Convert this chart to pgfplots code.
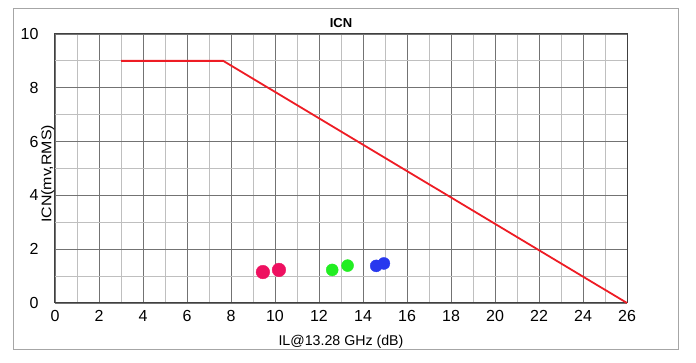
\documentclass[border=0pt]{standalone}
\usepackage{pgfplots}
\pgfplotsset{compat=1.18}
\usepackage{fontspec}
\setmainfont{Liberation Sans}
\definecolor{redl}{HTML}{EE1C24}
\definecolor{mag}{HTML}{EE1060}
\definecolor{grn}{HTML}{22EE22}
\definecolor{blu}{HTML}{2838EE}
\begin{document}
\begin{tikzpicture}
\useasboundingbox (-55pt,-60pt) rectangle (641pt,303pt);
\draw[gray!70, line width=1pt] (-41pt,-47pt) rectangle (623pt,294pt);
\begin{axis}[
  at={(0pt,0pt)}, anchor=origin,
  scale only axis, width=572pt, height=269pt,
  xmin=0, xmax=26, ymin=0, ymax=10,
  xtick={0,2,...,26}, ytick={0,2,...,10},
  minor xtick={1,3,...,25}, minor ytick={1,3,...,9},
  grid=both,
  major grid style={draw=black!55, line width=0.9pt},
  minor grid style={draw=black!25, line width=0.9pt},
  axis line style={draw=black!75, line width=1pt},
  tick style={draw=none},
  /pgf/number format/assume math mode=true,
  tick label style={font=\fontsize{16}{16}\selectfont},
  xticklabel style={yshift=-4pt},
  yticklabel style={xshift=-13pt},
  title={\bfseries ICN}, title style={font=\fontsize{13}{13}\selectfont, yshift=-3pt},
  xlabel={IL@13.28 GHz (dB)}, xlabel style={font=\fontsize{14.2}{14.2}\selectfont, at={(axis description cs:0.5,0)}, anchor=center, yshift=-39pt},
  ylabel={ICN(mv,RMS)}, ylabel style={font=\fontsize{14}{14}\selectfont, at={(axis description cs:-0.0125,0.48)}, anchor=center, rotate=0, xscale=1.14},
  clip=false,
]
\addplot[redl, line width=1.8pt] coordinates {(3,9) (7.65,9) (26,0)};
\addplot[only marks, mark=*, mark size=6.8pt, mag, mark options={draw=mag, fill=mag}] coordinates {(9.45,1.15) (10.18,1.23)};
\addplot[only marks, mark=*, mark size=6pt, grn, mark options={draw=grn, fill=grn}] coordinates {(12.6,1.23) (13.3,1.39)};
\addplot[only marks, mark=*, mark size=6pt, blu, mark options={draw=blu, fill=blu}] coordinates {(14.6,1.38) (14.95,1.47)};
\end{axis}
\end{tikzpicture}
\end{document}
